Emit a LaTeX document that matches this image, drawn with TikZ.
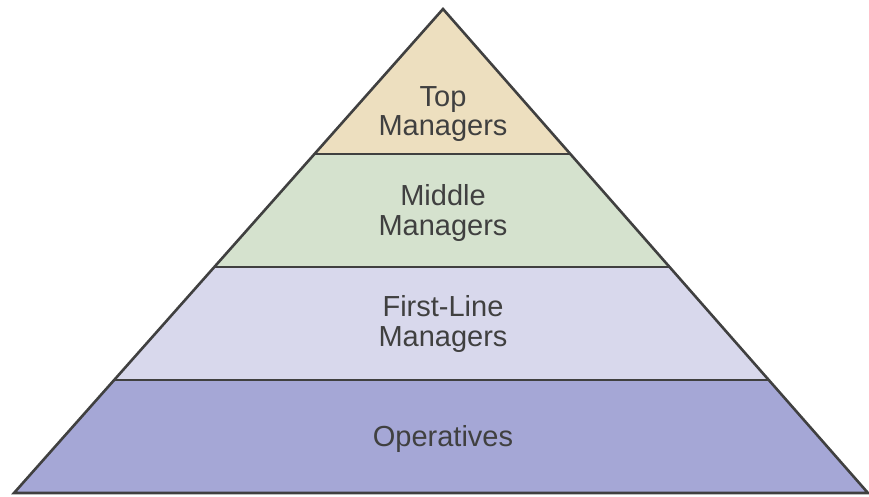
\documentclass[tikz,border=0pt]{standalone}
\usepackage{fontspec}
\setmainfont{Liberation Sans}
\usetikzlibrary{calc}
\definecolor{topc}{HTML}{EDDFBF}
\definecolor{midc}{HTML}{D5E2CE}
\definecolor{firstc}{HTML}{D8D8EC}
\definecolor{opc}{HTML}{A5A7D6}
\definecolor{edge}{HTML}{404040}
\begin{document}
\begin{tikzpicture}[x=1pt,y=-1pt,
  tier/.style={draw=edge,line width=2.6pt,line join=miter},
  label/.style={text=edge,font=\fontsize{29}{29.5}\selectfont,align=center}]
\useasboundingbox (0,0) rectangle (869,497);
\coordinate (A) at (443,9);
\coordinate (BL) at (14,493);
\coordinate (BR) at (868,493);
\coordinate (L1) at ($(A)!0.2996!(BL)$);
\coordinate (R1) at ($(A)!0.2996!(BR)$);
\coordinate (L2) at ($(A)!0.533!(BL)$);
\coordinate (R2) at ($(A)!0.533!(BR)$);
\coordinate (L3) at ($(A)!0.7665!(BL)$);
\coordinate (R3) at ($(A)!0.7665!(BR)$);
\fill[opc] (L3) -- (R3) -- (BR) -- (BL) -- cycle;
\fill[firstc] (L2) -- (R2) -- (R3) -- (L3) -- cycle;
\fill[midc] (L1) -- (R1) -- (R2) -- (L2) -- cycle;
\fill[topc] (A) -- (R1) -- (L1) -- cycle;
\draw[tier] (L1) -- (R1);
\draw[tier] (L2) -- (R2);
\draw[tier] (L3) -- (R3);
\draw[tier] (A) -- (BR) -- (BL) -- cycle;
\node[label] (top) at (443,114) {Top\\Managers};
\node[label] (mid) at (443,213) {Middle\\Managers};
\node[label] (first) at (443,324) {First-Line\\Managers};
\node[label] (ops) at (443,439) {Operatives};
\end{tikzpicture}
\end{document}
